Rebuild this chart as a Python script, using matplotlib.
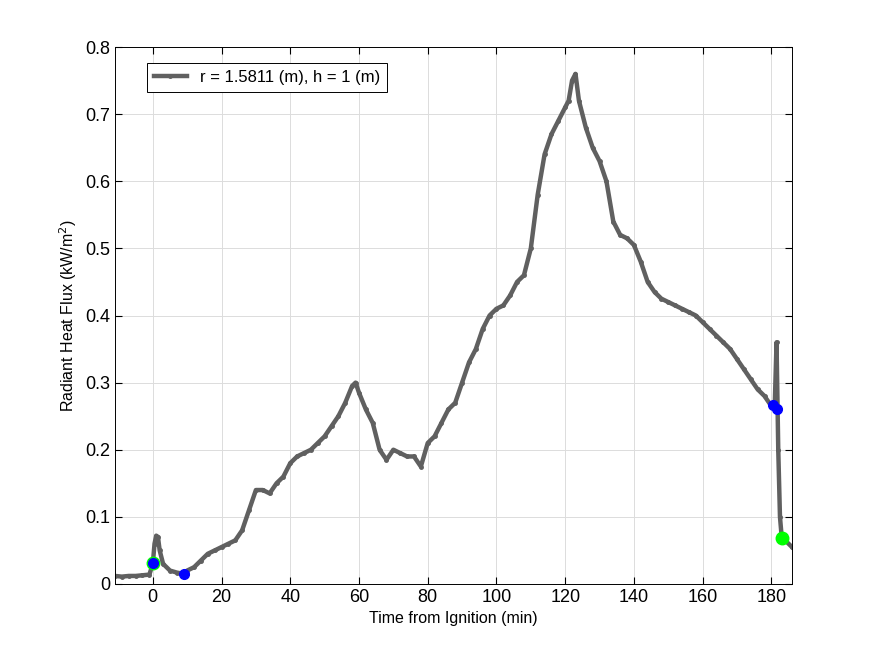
import matplotlib
matplotlib.use("Agg")
import matplotlib.pyplot as plt

plt.rcParams['font.family'] = ['Liberation Sans', 'DejaVu Sans']

time_min = [-11,-9,-7,-5,-3,-1,0,0.5,1,1.5,2,3,5,7,9,10,12,14,16,18,20,22,24,26,28,30,32,34,36,38,40,42,44,46,48,50,52,54,56,58,59,60,62,64,66,68,70,72,74,76,78,80,82,84,86,88,90,92,94,96,98,100,102,104,106,108,110,112,114,116,118,120,121,122,123,124,126,128,130,132,134,136,138,140,142,144,146,148,150,152,154,156,158,160,162,164,166,168,170,172,174,176,178,180,181,181.5,182,182.5,183,184,186]
flux = [0.012,0.011,0.012,0.012,0.013,0.014,0.03,0.06,0.072,0.07,0.05,0.03,0.02,0.017,0.015,0.02,0.025,0.035,0.045,0.05,0.055,0.06,0.065,0.08,0.11,0.14,0.14,0.135,0.15,0.16,0.18,0.19,0.195,0.2,0.21,0.22,0.235,0.25,0.27,0.295,0.3,0.285,0.26,0.24,0.2,0.185,0.2,0.195,0.19,0.19,0.175,0.21,0.22,0.24,0.26,0.27,0.3,0.33,0.35,0.38,0.4,0.41,0.415,0.43,0.45,0.46,0.5,0.58,0.64,0.67,0.69,0.71,0.72,0.75,0.76,0.72,0.68,0.65,0.63,0.6,0.54,0.52,0.515,0.505,0.48,0.45,0.435,0.425,0.42,0.415,0.41,0.405,0.4,0.39,0.38,0.37,0.36,0.35,0.335,0.32,0.305,0.29,0.28,0.265,0.27,0.36,0.2,0.1,0.07,0.065,0.055]

blue_t = [0, 9, 180.5, 181.5]
blue_f = [0.031, 0.015, 0.267, 0.26]
green_t = [0, 183]
green_f = [0.032, 0.068]

fig = plt.figure(figsize=(8.75, 6.56), dpi=100)
ax = fig.add_axes([115/875, 1-584/656, (792-115)/875, (584-47)/656])
ax.plot(time_min, flux, '.-', color='#606060', lw=3.2, ms=5, label='r = 1.5811 (m), h = 1 (m)')
ax.plot(green_t, green_f, 'o', color='#00ff00', ms=9, zorder=5)
ax.plot(blue_t, blue_f, 'o', color='#0000ff', ms=7, zorder=6)
ax.set_xlim(-11, 186)
ax.set_ylim(0, 0.8)
ax.set_xticks(range(0, 181, 20))
ax.set_yticks([0,0.1,0.2,0.3,0.4,0.5,0.6,0.7,0.8])
ax.set_yticklabels(['0','0.1','0.2','0.3','0.4','0.5','0.6','0.7','0.8'])
ax.grid(True, color='#dcdcdc', lw=0.7)
ax.tick_params(direction='in', labelsize=13, top=True, right=True, length=5)
for s in ax.spines.values():
    s.set_linewidth(0.7)
ax.set_xlabel('Time from Ignition (min)', fontsize=11.5)
ax.set_ylabel('Radiant Heat Flux (kW/m$^2$)', fontsize=11.5)
leg = ax.legend(loc='upper left', fontsize=12, fancybox=False, edgecolor='black', framealpha=1, bbox_to_anchor=(0.035, 0.985))
leg.get_frame().set_linewidth(0.7)
fig.savefig('out.png', dpi=100)
